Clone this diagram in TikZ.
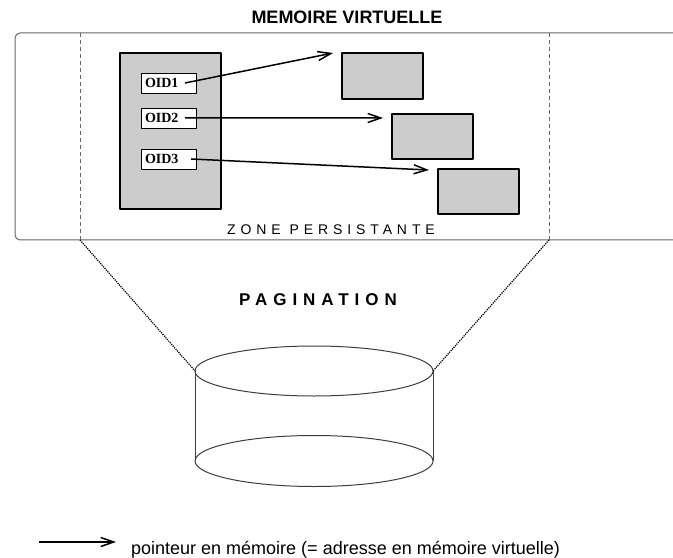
\documentclass[tikz,border=0pt]{standalone}
\usepackage{fontspec}
\setmainfont{Liberation Serif}
\setsansfont{Liberation Sans}
\newfontfamily\espace[LetterSpace=35]{Liberation Sans}
\usetikzlibrary{arrows.meta}
\definecolor{grisfond}{gray}{0.8}
\definecolor{gristrait}{gray}{0.4}
\begin{document}
\begin{tikzpicture}[x=1bp,y=-1bp,line join=round,
	>={Straight Barb[length=13bp,width=9bp]},
	bloc/.style={draw,line width=1.3bp,fill=grisfond,inner sep=0pt,outer sep=0pt,anchor=north west},
	oid/.style={draw,line width=0.8bp,fill=white,inner xsep=4bp,inner ysep=0pt,outer sep=0pt,
		minimum height=20bp,text width=47bp,align=left,anchor=north west,
		font=\bfseries\fontsize{14bp}{16bp}\selectfont},
	pointeur/.style={->,line width=1.5bp},
	titre/.style={font=\sffamily\bfseries\fontsize{18bp}{20bp}\selectfont}]
	\def \W{673}
	\def \H{558}
	\useasboundingbox (0,0) rectangle (\W,\H);
	% memoire virtuelle
	\node[titre] (titre) at (347,17) {MEMOIRE VIRTUELLE};
	\draw[gristrait,line width=1bp,rounded corners=5bp] (\W,33) -- (15,33) -- (15,240) -- (\W,240);
	\coordinate (gh) at (80,33);
	\coordinate (gb) at (80,240);
	\coordinate (dh) at (549,33);
	\coordinate (db) at (549,240);
	\draw[gristrait,line width=0.9bp,dash pattern=on 4bp off 3bp] (gh) -- (gb) (dh) -- (db);
	% objets
	\node[bloc,minimum width=101bp,minimum height=156bp] (table) at (120,53) {};
	\node[oid] (oid1) at (141,73) {OID1};
	\node[oid] (oid2) at (141,108) {OID2};
	\node[oid] (oid3) at (141,149) {OID3};
	\node[bloc,minimum width=81bp,minimum height=46bp] (r1) at (342,53) {};
	\node[bloc,minimum width=81bp,minimum height=45bp] (r2) at (392,114) {};
	\node[bloc,minimum width=81bp,minimum height=45bp] (r3) at (438,169) {};
	\draw[pointeur] ([xshift=-11bp]oid1.east) -- ([xshift=-9bp]r1.north west);
	\draw[pointeur] ([xshift=-11bp]oid2.east) -- ([xshift=-9bp,yshift=-4bp]r2.north west);
	\draw[pointeur] ([xshift=-5bp]oid3.east) -- ([xshift=-9bp,yshift=-1bp]r3.north west);
	\node[font=\espace\fontsize{14bp}{16bp}\selectfont] (zone) at (331,230) {ZONE PERSISTANTE};
	% pagination
	\node[font=\espace\bfseries\fontsize{17bp}{19bp}\selectfont] (pagination) at (318,300) {PAGINATION};
	\coordinate (cg) at (195,371);
	\coordinate (cd) at (433,371);
	\draw[line width=1.2bp,densely dotted] (gb) -- (cg) (db) -- (cd);
	\draw[gristrait!60!black,line width=1bp] (314,371) ellipse [x radius=119bp,y radius=25bp];
	\draw[gristrait!60!black,line width=1bp] (314,461) ellipse [x radius=119bp,y radius=25.5bp];
	\draw[gristrait!60!black,line width=1bp] (cg) -- (195,461) (cd) -- (433,461);
	% legende
	\coordinate (la) at (39,542);
	\coordinate (lb) at (116,542);
	\draw[pointeur] (la) -- (lb);
	\node[anchor=base west,inner sep=0pt,font=\sffamily\fontsize{18bp}{20bp}\selectfont] (legende) at (131,554) {pointeur en mémoire (= adresse en mémoire virtuelle)};
\end{tikzpicture}
\end{document}
